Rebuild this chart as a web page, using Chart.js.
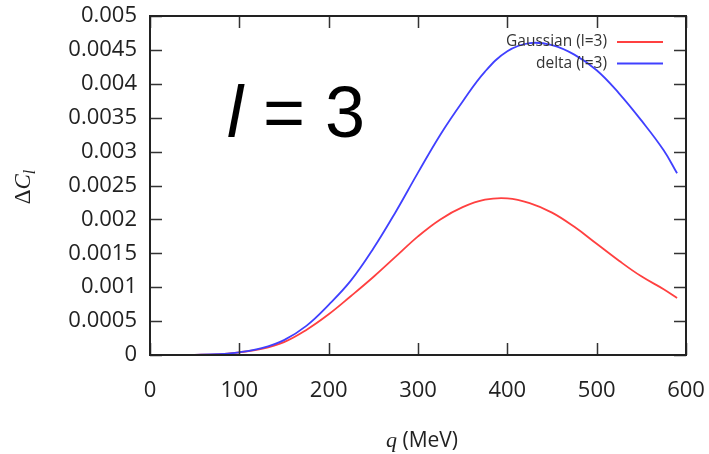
<!DOCTYPE html>
<html>
<head>
<meta charset="utf-8">
<script src="https://cdn.jsdelivr.net/npm/chart.js@4.4.0/dist/chart.umd.min.js"></script>
<style>
  html, body { margin: 0; padding: 0; background: #fff; }
  #wrap { width: 709px; height: 454px; }
</style>
</head>
<body>
<div id="wrap"><canvas id="myChart" width="709" height="454"></canvas></div>
<script>
// q values (MeV)
const qValues = [0, 25, 50, 75, 100, 125, 150, 175, 200, 225, 250, 275, 300, 325, 350, 375, 400, 425, 450, 475, 500, 525, 550, 575, 590];

// Gaussian (l=3), red curve
const gaussValues = [0, 0, 0.000003, 0.00001, 0.00004, 0.00009, 0.00019, 0.00037, 0.0006, 0.00087, 0.00115, 0.00145, 0.00175, 0.002, 0.00218, 0.00229, 0.00231, 0.00224, 0.0021, 0.00189, 0.00164, 0.00139, 0.00116, 0.00097, 0.00084];

// delta (l=3), blue curve
const deltaValues = [0, 0, 0.000003, 0.000012, 0.00004, 0.0001, 0.00022, 0.00043, 0.00074, 0.0011, 0.00157, 0.00211, 0.00269, 0.00325, 0.00374, 0.00418, 0.00448, 0.0046, 0.00457, 0.00443, 0.0042, 0.00386, 0.00346, 0.00302, 0.00268];

// Tick labels
const xTicks = [0, 100, 200, 300, 400, 500, 600];
const yTicks = [0, 0.0005, 0.001, 0.0015, 0.002, 0.0025, 0.003, 0.0035, 0.004, 0.0045, 0.005];

const seriesLabels = ['Gaussian (l=3)', 'delta (l=3)'];
const seriesColors = ['#ff4040', '#4040ff'];

function toPoints(values) {
  return qValues.map(function (q, i) { return { x: q, y: values[i] }; });
}

const tickFont = { family: 'Open Sans', size: 22 };
const inkColor = '#222';

// no extra room for the end labels, the chart area is set by layout padding
function noPad(scale) {
  scale.paddingLeft = 0;
  scale.paddingRight = 0;
  scale.paddingTop = 0;
  scale.paddingBottom = 0;
}

// Box, inward ticks on all four sides, legend and titles
const decorPlugin = {
  id: 'decor',
  afterDatasetsDraw: function (chart) {
    const c = chart.ctx;
    const a = chart.chartArea;
    const xs = chart.scales.x;
    const ys = chart.scales.y;
    const tl = 12;
    c.save();

    // inward ticks
    c.strokeStyle = '#333';
    c.lineWidth = 1.5;
    c.beginPath();
    xTicks.forEach(function (v) {
      const px = Math.round(xs.getPixelForValue(v)) + 0.5;
      c.moveTo(px, a.bottom); c.lineTo(px, a.bottom - tl);
      c.moveTo(px, a.top); c.lineTo(px, a.top + tl);
    });
    yTicks.forEach(function (v) {
      const py = Math.round(ys.getPixelForValue(v)) + 0.5;
      c.moveTo(a.left, py); c.lineTo(a.left + tl, py);
      c.moveTo(a.right, py); c.lineTo(a.right - tl, py);
    });
    c.stroke();

    // border
    c.strokeStyle = inkColor;
    c.lineWidth = 2;
    c.strokeRect(a.left, a.top, a.right - a.left, a.bottom - a.top);

    // legend (text then line sample, gnuplot style)
    c.font = '15.5px "Open Sans"';
    c.textAlign = 'right';
    c.textBaseline = 'middle';
    chart.data.datasets.forEach(function (ds, i) {
      const y = 42 + i * 21.5;
      c.fillStyle = '#333';
      c.fillText(ds.label, 607, y);
      c.strokeStyle = ds.borderColor;
      c.lineWidth = 1.8;
      c.beginPath();
      c.moveTo(617, y); c.lineTo(663, y);
      c.stroke();
    });

    // big "l = 3" label
    c.fillStyle = '#000';
    c.textAlign = 'left';
    c.textBaseline = 'alphabetic';
    c.font = 'italic 72px "Liberation Sans"';
    c.fillText('l', 227, 137);
    let w = c.measureText('l').width;
    c.font = '72px "Liberation Sans"';
    c.fillText(' = 3', 227 + w, 137);

    // x title: q (MeV)
    c.fillStyle = inkColor;
    c.font = 'italic 22px "Liberation Serif"';
    const qW = c.measureText('q ').width;
    c.font = '21px "Open Sans"';
    const mW = c.measureText('(MeV)').width;
    let x0 = 422 - (qW + mW) / 2;
    c.font = 'italic 22px "Liberation Serif"';
    c.fillText('q ', x0, 447);
    c.font = '21px "Open Sans"';
    c.fillText('(MeV)', x0 + qW, 447);

    // y title: Delta C_l, rotated
    c.translate(30, 187);
    c.rotate(-Math.PI / 2);
    c.font = '23px "Liberation Serif"';
    const dW = c.measureText('\u0394').width;
    c.font = 'italic 23px "Liberation Serif"';
    const cW = c.measureText('C').width;
    c.font = 'italic 16px "Liberation Serif"';
    const lW = c.measureText('l').width;
    x0 = -(dW + cW + lW) / 2;
    c.font = '23px "Liberation Serif"';
    c.fillText('\u0394', x0, 0);
    c.font = 'italic 23px "Liberation Serif"';
    c.fillText('C', x0 + dW, 0);
    c.font = 'italic 16px "Liberation Serif"';
    c.fillText('l', x0 + dW + cW, 5);

    c.restore();
  }
};

const ctx = document.getElementById('myChart').getContext('2d');

const myChart = new Chart(ctx, {
  type: 'line',
  data: {
    datasets: [
      {
        label: seriesLabels[0],
        data: toPoints(gaussValues),
        borderColor: seriesColors[0],
        borderWidth: 1.8,
        pointRadius: 0,
        tension: 0.4,
        order: 1,
      },
      {
        label: seriesLabels[1],
        data: toPoints(deltaValues),
        borderColor: seriesColors[1],
        borderWidth: 1.8,
        pointRadius: 0,
        tension: 0.4,
        order: 0,
      },
    ],
  },
  options: {
    responsive: false,
    animation: false,
    events: [],
    layout: { padding: { top: 16, right: 23, left: 0, bottom: 0 } },
    plugins: {
      legend: { display: false },
      tooltip: { enabled: false },
    },
    scales: {
      x: {
        type: 'linear',
        min: 0,
        max: 600,
        afterBuildTicks: function (scale) {
          scale.ticks = xTicks.map(function (v) { return { value: v }; });
        },
        afterFit: function (scale) { scale.height = 99; noPad(scale); },
        grid: { display: false, drawTicks: false },
        border: { display: false },
        ticks: {
          font: tickFont,
          color: inkColor,
          padding: 23,
          maxRotation: 0,
          callback: function (v) { return String(v); },
        },
      },
      y: {
        type: 'linear',
        min: 0,
        max: 0.005,
        afterBuildTicks: function (scale) {
          scale.ticks = yTicks.map(function (v) { return { value: v }; });
        },
        afterFit: function (scale) { scale.width = 150; noPad(scale); },
        grid: { display: false, drawTicks: false },
        border: { display: false },
        ticks: {
          font: tickFont,
          color: inkColor,
          padding: 13,
          callback: function (v) { return String(Number(v.toFixed(4))); },
        },
      },
    },
  },
  plugins: [decorPlugin],
});
</script>
</body>
</html>
